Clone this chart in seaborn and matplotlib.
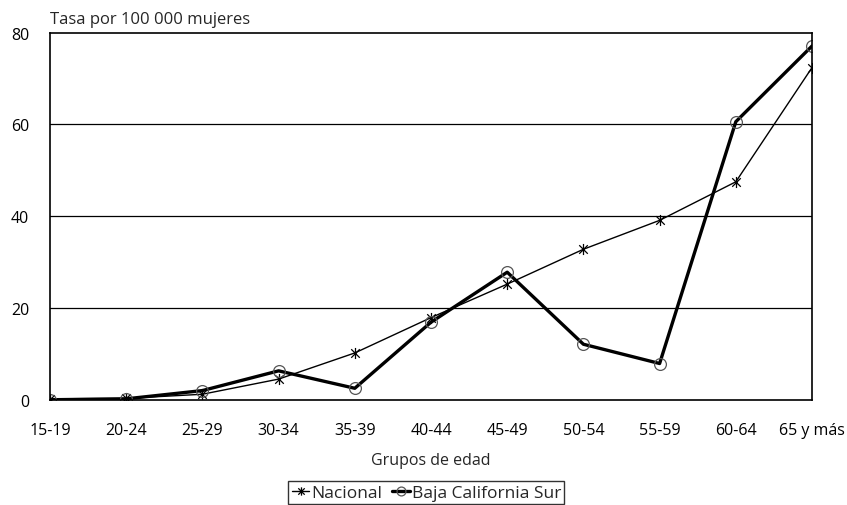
import numpy as np
import pandas as pd
import matplotlib
matplotlib.use("Agg")
import matplotlib.pyplot as plt
from matplotlib.path import Path
import seaborn as sns

grupos = ["15-19", "20-24", "25-29", "30-34", "35-39", "40-44",
          "45-49", "50-54", "55-59", "60-64", "65 y más"]
nacional = [0.2, 0.3, 1.2, 4.5, 10.2, 17.9, 25.2, 32.8, 39.1, 47.5, 72.4]
bcs = [0.0, 0.2, 2.0, 6.3, 2.5, 16.9, 27.8, 12.1, 7.9, 60.6, 77.1]

df = pd.DataFrame({
    "x": list(range(len(grupos))) * 2,
    "tasa": nacional + bcs,
    "serie": ["Nacional"] * len(grupos) + ["Baja California Sur"] * len(grupos),
})

# star marker like the spreadsheet one: an x with a vertical bar
star = Path([(-1, -1), (1, 1), (-1, 1), (1, -1), (0, -1.3), (0, 1.3)],
            [Path.MOVETO, Path.LINETO, Path.MOVETO, Path.LINETO, Path.MOVETO, Path.LINETO])

sns.set_style("white")
plt.rcParams["font.family"] = ["Open Sans", "DejaVu Sans"]

fig = plt.figure(figsize=(8.47, 5.06), dpi=100)
ax = fig.add_axes([0.059, 0.208, 0.8997, 0.7254])

sns.lineplot(data=df[df.serie == "Nacional"], x="x", y="tasa", ax=ax,
             color="black", lw=1, marker=star, markersize=8,
             markeredgecolor="black", markeredgewidth=0.9,
             label="Nacional", legend=False)
sns.lineplot(data=df[df.serie == "Baja California Sur"], x="x", y="tasa", ax=ax,
             color="black", lw=2.4, marker="o", markersize=8.5,
             markerfacecolor="none", markeredgecolor="#555555", markeredgewidth=0.9,
             label="Baja California Sur", legend=False)

ax.set_xlim(0, len(grupos) - 1)
ax.set_ylim(0, 80)
ax.set_yticks([0, 20, 40, 60, 80])
ax.set_xticks(range(len(grupos)))
ax.set_xticklabels(grupos)
ax.tick_params(axis="both", length=0, labelsize=11.5, colors="black")
ax.tick_params(axis="x", pad=16)
ax.tick_params(axis="y", pad=15)
for v in [20, 40, 60]:
    ax.axhline(v, color="black", lw=0.9, zorder=0)
for s in ax.spines.values():
    s.set_color("black")
    s.set_linewidth(1.2)

ax.set_xlabel("Grupos de edad", fontsize=11.5, labelpad=10)
ax.set_ylabel("")
fig.text(50 / 847, 1 - 20 / 506, "Tasa por 100 000 mujeres", fontsize=12,
         va="center", ha="left")

leg = ax.legend(loc="upper center", bbox_to_anchor=(0.494, -0.222), ncol=2,
                frameon=True, fancybox=False, edgecolor="black", fontsize=12.5,
                handlelength=1.0, handletextpad=0.1, columnspacing=0.6,
                borderpad=0.2, borderaxespad=0, markerscale=0.75)
leg.get_frame().set_linewidth(1)

fig.savefig("out.png", dpi=100)
